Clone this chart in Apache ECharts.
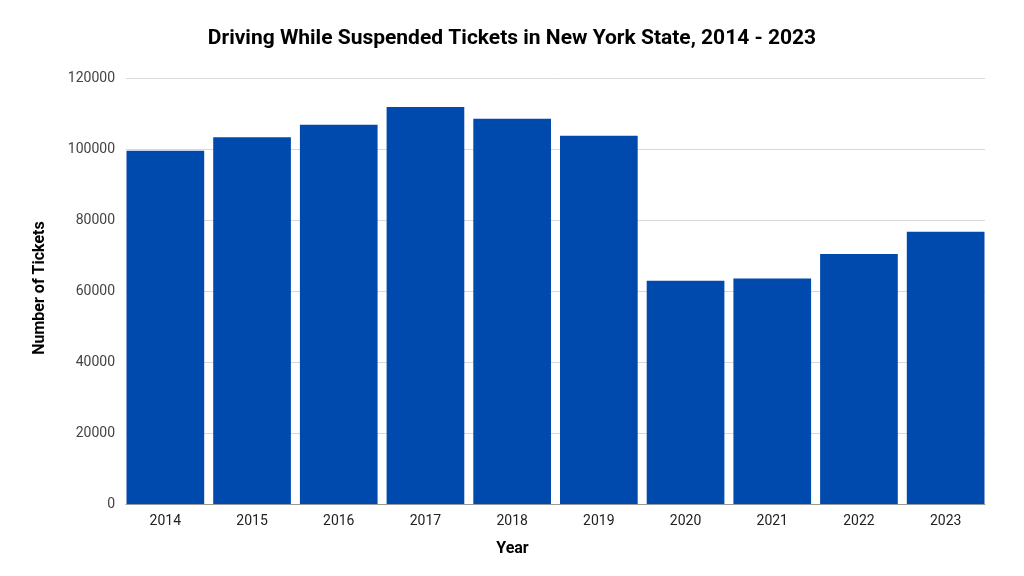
<!DOCTYPE html>
<html>
<head>
<meta charset="utf-8">
<script src="https://cdn.jsdelivr.net/npm/echarts@6/dist/echarts.min.js"></script>
<style>html,body{margin:0;padding:0;background:#fff;}#c{width:1024px;height:576px;}</style>
</head>
<body>
<div id="c"></div>
<script>
const years = ['2014','2015','2016','2017','2018','2019','2020','2021','2022','2023'];
const tickets = [99500, 103300, 106800, 111800, 108500, 103700, 62900, 63500, 70400, 76700];
const yTicks = [0, 20000, 40000, 60000, 80000, 100000, 120000];

const chart = echarts.init(document.getElementById('c'));
const font = 'Roboto, "Noto Sans", sans-serif';
chart.setOption({
  backgroundColor: '#fff',
  animation: false,
  title: {
    text: 'Driving While Suspended Tickets in New York State, 2014 - 2023',
    left: 'center', top: 23,
    textStyle: { fontFamily: font, fontSize: 21, fontWeight: 'bold', color: '#000' }
  },
  grid: [
    { left: 122, right: 35, top: 78, bottom: 72 },
    { left: 126, right: 39, top: 78, bottom: 72 }
  ],
  xAxis: [
    {
      type: 'category', gridIndex: 0, data: years,
      axisLine: { show: false }, axisTick: { show: false },
      axisLabel: { fontFamily: font, fontSize: 14, color: '#222', margin: 10 },
      name: 'Year', nameLocation: 'middle', nameGap: 37,
      nameTextStyle: { fontFamily: font, fontSize: 16, fontWeight: 'bold', color: '#000', padding: [0, 86, 0, 0] }
    },
    {
      type: 'value', gridIndex: 1, show: true,
      axisLabel: { show: false }, axisTick: { show: false }, splitLine: { show: false },
      axisLine: { show: true, onZero: false, lineStyle: { color: '#999', width: 1 } }
    }
  ],
  yAxis: [
    {
      type: 'value', gridIndex: 0, min: yTicks[0], max: yTicks[yTicks.length - 1], interval: 20000,
      show: false
    },
    {
      type: 'value', gridIndex: 1, min: yTicks[0], max: yTicks[yTicks.length - 1], interval: 20000,
      axisLine: { show: false }, axisTick: { show: false },
      axisLabel: { fontFamily: font, fontSize: 14, color: '#444', margin: 11, formatter: v => String(v) },
      splitLine: { lineStyle: { color: '#d9d9d9', width: 1 } },
      name: 'Number of Tickets', nameLocation: 'middle', nameGap: 78, nameRotate: 90,
      nameTextStyle: { fontFamily: font, fontSize: 16, fontWeight: 'bold', color: '#000', padding: [0, 0, 0, 6] }
    }
  ],
  series: [
    {
      type: 'bar', xAxisIndex: 0, yAxisIndex: 0, data: tickets,
      barCategoryGap: '10.4%', z: 3,
      itemStyle: { color: '#004aad' }
    }
  ]
});
</script>
</body>
</html>
